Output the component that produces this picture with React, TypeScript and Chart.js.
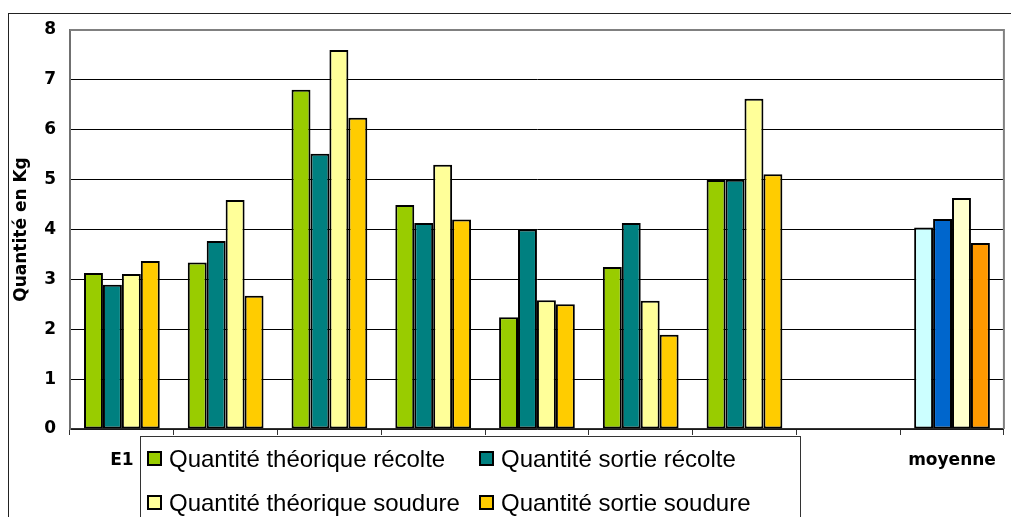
import { useEffect, useRef } from 'react';
import { Chart, registerables } from 'chart.js';

Chart.register(...registerables);

// Categories on the x axis (the 8th slot is an intentional blank spacer)
const categories = ['E1', 'E2', 'E3', 'E4', 'E5', 'E6', 'E7', '', 'moyenne'];

// Quantities in kg per series
const theoriqueRecolte = [3.13, 3.34, 6.8, 4.49, 2.24, 3.25, 4.99, null, 4.04];
const sortieRecolte = [2.89, 3.77, 5.52, 4.13, 4.0, 4.13, 5.0, null, 4.21];
const theoriqueSoudure = [3.11, 4.59, 7.6, 5.3, 2.58, 2.57, 6.62, null, 4.63];
const sortieSoudure = [3.37, 2.67, 6.24, 4.2, 2.5, 1.89, 5.11, null, 3.73];

const seriesNames = [
  'Quantité théorique récolte',
  'Quantité sortie récolte',
  'Quantité théorique soudure',
  'Quantité sortie soudure',
];
const seriesColors = ['#99CC00', '#008080', '#FFFF99', '#FFCC00'];
const averageColors = ['#CCFFFF', '#0066CC', '#FFFFCC', '#FF9900'];

const yMin = 0;
const yMax = 8;
const yStep = 1;

const axisFont = { family: "'DejaVu Sans', Verdana, sans-serif", size: 17, weight: 'bold' as const };
const legendFont = "24px Arial, 'Liberation Sans', sans-serif";

const W = 1011;
const H = 517;

// Draws the outer frame, the plot border and the boxed legend
const decorations = {
  id: 'decorations',
  beforeDraw(chart: any) {
    const ctx = chart.ctx;
    ctx.save();
    ctx.fillStyle = '#ffffff';
    ctx.fillRect(0, 0, chart.width, chart.height);
    ctx.strokeStyle = '#222222';
    ctx.lineWidth = 1;
    ctx.strokeRect(8.5, 13.5, chart.width + 20, chart.height + 20);
    ctx.restore();
  },
  afterDraw(chart: any) {
    const ctx = chart.ctx;
    const { left, top, right, bottom } = chart.chartArea;
    ctx.save();
    ctx.strokeStyle = '#808080';
    ctx.lineWidth = 2;
    ctx.beginPath();
    ctx.moveTo(left, top);
    ctx.lineTo(right, top);
    ctx.lineTo(right, bottom);
    ctx.stroke();

    // legend box
    const bx = 140.5;
    const by = 436.5;
    const bw = 660;
    ctx.fillStyle = '#ffffff';
    ctx.fillRect(bx, by, bw, 120);
    ctx.strokeStyle = '#333333';
    ctx.lineWidth = 1;
    ctx.strokeRect(bx, by, bw, 120);

    const colX = [147, 479];
    const rowY = [451, 495];
    ctx.font = legendFont;
    ctx.textBaseline = 'alphabetic';
    ctx.textAlign = 'left';
    chart.data.datasets.forEach((ds: any, k: number) => {
      const x = colX[k % 2];
      const y = rowY[Math.floor(k / 2)];
      ctx.fillStyle = Array.isArray(ds.backgroundColor) ? ds.backgroundColor[0] : ds.backgroundColor;
      ctx.fillRect(x, y, 15, 15);
      ctx.strokeStyle = '#000000';
      ctx.lineWidth = 2;
      ctx.strokeRect(x + 1, y + 1, 13, 13);
      ctx.fillStyle = '#000000';
      ctx.fillText(ds.label, x + 22, y + 15.5);
    });
    ctx.restore();
  },
};

export default function App() {
  const canvasRef = useRef<HTMLCanvasElement | null>(null);

  useEffect(() => {
    const canvas = canvasRef.current;
    if (!canvas) return;
    const seriesData = [theoriqueRecolte, sortieRecolte, theoriqueSoudure, sortieSoudure];
    const chart = new Chart(canvas, {
      type: 'bar',
      data: {
        labels: categories,
        datasets: seriesData.map((values, i) => ({
          label: seriesNames[i],
          data: values,
          backgroundColor: categories.map((c) => (c === 'moyenne' ? averageColors[i] : seriesColors[i])),
          borderColor: '#000000',
          borderWidth: 2,
          borderSkipped: false,
          categoryPercentage: 0.73,
          barPercentage: 1.0,
        })),
      },
      options: {
        responsive: false,
        animation: false,
        layout: { padding: { top: 30, right: 2, bottom: 0, left: 0 } },
        plugins: {
          legend: { display: false },
          tooltip: { enabled: false },
        },
        scales: {
          x: {
            grid: {
              display: true,
              drawOnChartArea: false,
              drawTicks: true,
              tickLength: 6,
              color: '#333333',
              offset: true,
            },
            border: { display: true, color: '#333333', width: 1.5 },
            ticks: {
              autoSkip: false,
              maxRotation: 0,
              color: '#000000',
              font: axisFont,
              padding: 15,
            },
            afterFit: (scale: any) => {
              scale.height = 88;
            },
          },
          y: {
            min: yMin,
            max: yMax,
            ticks: {
              stepSize: yStep,
              color: '#000000',
              font: axisFont,
              padding: 14,
            },
            grid: {
              color: '#000000',
              lineWidth: 1,
              drawTicks: false,
            },
            border: { display: true, color: '#707070', width: 2 },
            title: {
              display: true,
              text: 'Quantité en Kg',
              color: '#000000',
              font: axisFont,
              padding: { top: 11, bottom: 0 },
            },
            afterFit: (scale: any) => {
              scale.width = 70;
            },
          },
        },
      },
      plugins: [decorations],
    });
    return () => chart.destroy();
  }, []);

  return (
    <div style={{ position: 'fixed', left: 0, top: 0, width: W, height: H, background: '#fff' }}>
      <canvas ref={canvasRef} width={W} height={H} style={{ display: 'block' }} />
    </div>
  );
}
